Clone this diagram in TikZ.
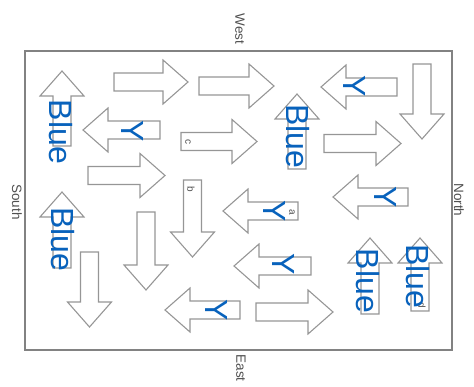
\documentclass[tikz,border=0pt]{standalone}
\usepackage{fontspec}
\setmainfont{Liberation Sans}
\definecolor{arrgray}{RGB}{150,150,150}
\definecolor{framegray}{RGB}{130,130,130}
\definecolor{labelgray}{RGB}{80,80,80}
\definecolor{blueink}{RGB}{8,98,188}
\tikzset{
  blockarrow/.style={draw=arrgray, fill=white, line width=1.1pt, line join=miter},
  frameline/.style={draw=framegray, line width=1.3pt},
  bluetxt/.style={text=blueink, font=\fontsize{32}{32}\selectfont, rotate=-90, inner sep=0pt},
  ytxt/.style={text=blueink, font=\fontsize{32}{32}\selectfont, rotate=-90, inner sep=0pt},
  smalllbl/.style={text=labelgray, font=\fontsize{10}{10}\selectfont, rotate=-90, inner sep=0pt},
  sidelbl/.style={text=labelgray, font=\fontsize{13.5}{13.5}\selectfont, rotate=-90, inner sep=0pt}
}
% tail point, direction angle (canvas), length
\newcommand\BlockArrow[3]{%
  \draw[blockarrow, shift={(#1)}, rotate=#2]
    (0,-9) -- (#3-25,-9) -- (#3-25,-22) -- (#3,0) -- (#3-25,22) -- (#3-25,9) -- (0,9) -- cycle;}
\begin{document}
\begin{tikzpicture}[x=1pt, y=-1pt]
\useasboundingbox (0,0) rectangle (474,387);
% frame
\draw[frameline] (25,51) rectangle (452,350);
% side labels
\node[sidelbl] (west) at (240,29) {West};
\node[sidelbl] (east) at (241,368) {East};
\node[sidelbl] (south) at (17,202) {South};
\node[sidelbl] (north) at (459,200) {North};
% arrows
\BlockArrow{62,146}{90}{75}    % 1 up, Blue
\BlockArrow{114,82}{0}{74}     % 2 right
\BlockArrow{199,86}{0}{75}     % 3 right
\BlockArrow{397,87}{180}{76}   % 4 left, Y
\BlockArrow{422,64}{270}{75}   % 5 down
\BlockArrow{160,130}{180}{77}  % 6 left, Y
\BlockArrow{181,141.5}{0}{76}  % 7 right, c
\BlockArrow{297,169}{90}{75}   % 8 up, Blue
\BlockArrow{324,143.5}{0}{77}  % 9 right
\BlockArrow{88,175.5}{0}{77}   % 10 right
\BlockArrow{408,197}{180}{75}  % 11 left, Y
\BlockArrow{62,268}{90}{76}    % 12 up, Blue
\BlockArrow{89.5,252}{270}{75} % 13 down
\BlockArrow{146,212}{270}{78}  % 14 down
\BlockArrow{192.5,180}{270}{77}% 15 down, b
\BlockArrow{298,211}{180}{75}  % 16 left, Y, a
\BlockArrow{311,266}{180}{77}  % 17 left, Y
\BlockArrow{240,310}{180}{75}  % 18 left, Y
\BlockArrow{256,312}{0}{77}    % 19 right
\BlockArrow{370,314}{90}{76}   % 20 up, Blue
\BlockArrow{420,311}{90}{73}   % 21 up, Blue, d
% small letters
\node[smalllbl] (lc) at (188,142) {c};
\node[smalllbl] (lb) at (191,189) {b};
\node[smalllbl] (la) at (292,212) {a};
\node[smalllbl] (ld) at (422,305) {d};
% Blue texts
\node[bluetxt] (b1) at (60.5,132) {Blue};
\node[bluetxt] (b2) at (63,239.5) {Blue};
\node[bluetxt] (b3) at (297.5,136.5) {Blue};
\node[bluetxt] (b4) at (367.5,281) {Blue};
\node[bluetxt] (b5) at (417.5,276.5) {Blue};
% Y letters
\node[ytxt] (y1) at (355,86) {Y};
\node[ytxt] (y2) at (133,131) {Y};
\node[ytxt] (y3) at (386,197) {Y};
\node[ytxt] (y4) at (275,211) {Y};
\node[ytxt] (y5) at (284,264) {Y};
\node[ytxt] (y6) at (217,310) {Y};
\end{tikzpicture}
\end{document}
